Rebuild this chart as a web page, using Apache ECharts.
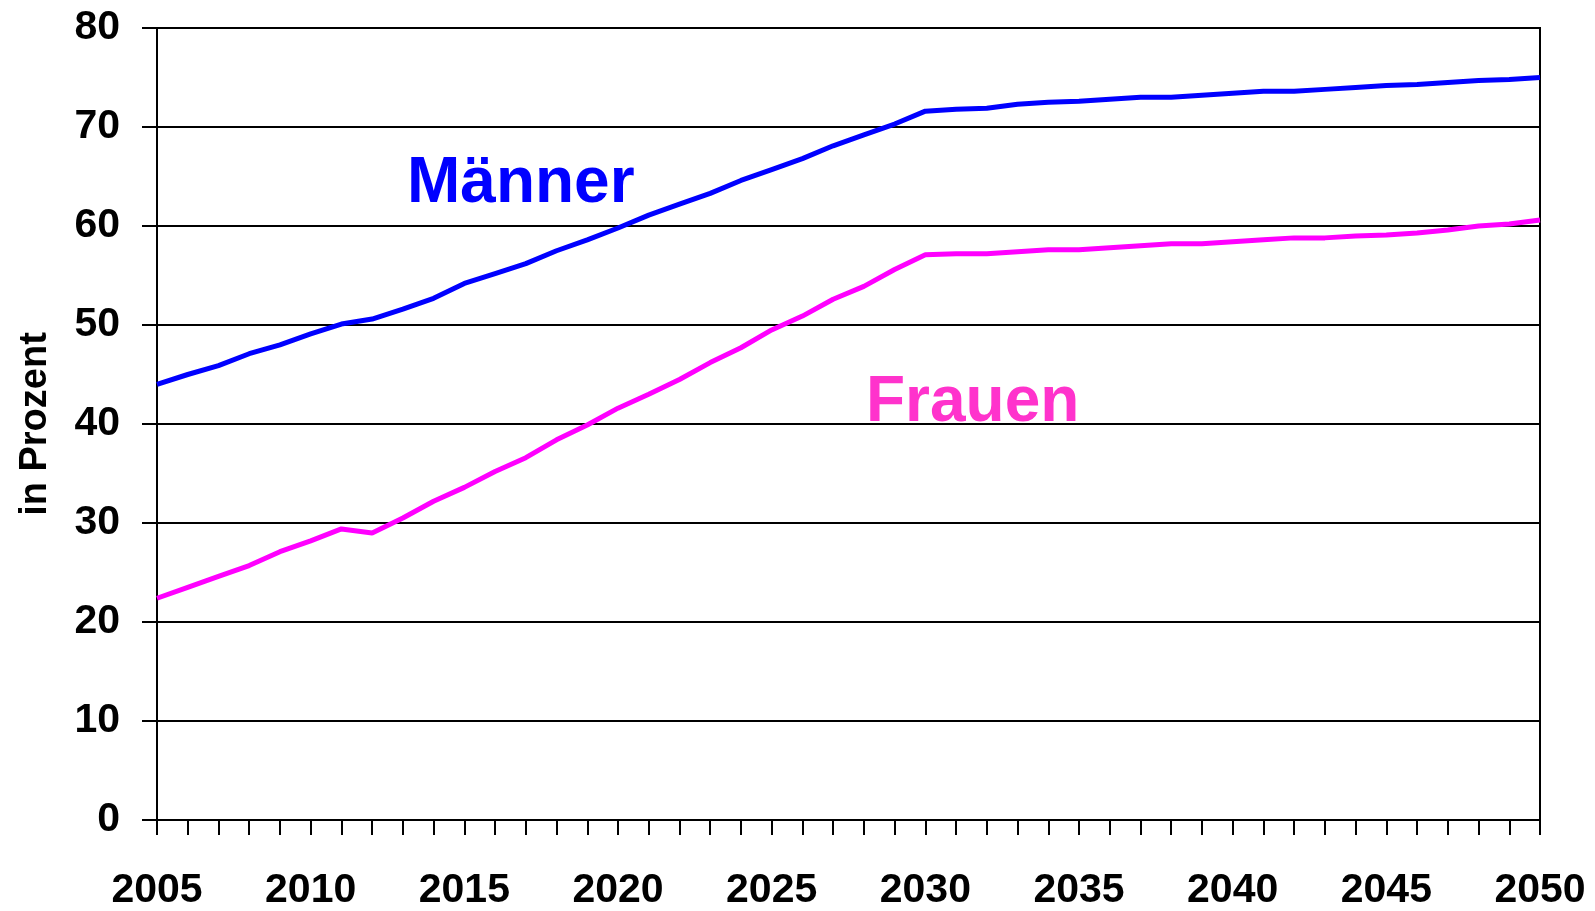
<!DOCTYPE html>
<html>
<head>
<meta charset="utf-8">
<script src="https://cdn.jsdelivr.net/npm/echarts@6/dist/echarts.min.js"></script>
<style>
  html, body { margin: 0; padding: 0; background: #fff; }
  #chart { width: 1595px; height: 911px; }
</style>
</head>
<body>
<div id="chart"></div>
<script>
// Jahre 2005 - 2050
var years = [];
for (var y = 2005; y <= 2050; y++) years.push(String(y));

var maenner = [
  44.0, 45.0, 45.9, 47.1, 48.0, 49.1, 50.1, 50.6, 51.6, 52.7,
  54.2, 55.2, 56.2, 57.5, 58.6, 59.8, 61.1, 62.2, 63.3, 64.6,
  65.7, 66.8, 68.1, 69.2, 70.3, 71.6, 71.8, 71.9, 72.3, 72.5,
  72.6, 72.8, 73.0, 73.0, 73.2, 73.4, 73.6, 73.6, 73.8, 74.0,
  74.2, 74.3, 74.5, 74.7, 74.8, 75.0
];
var frauen = [
  22.4, 23.5, 24.6, 25.7, 27.1, 28.2, 29.4, 29.0, 30.5, 32.2,
  33.6, 35.2, 36.6, 38.4, 39.9, 41.6, 43.0, 44.5, 46.2, 47.7,
  49.5, 50.9, 52.6, 53.9, 55.6, 57.1, 57.2, 57.2, 57.4, 57.6,
  57.6, 57.8, 58.0, 58.2, 58.2, 58.4, 58.6, 58.8, 58.8, 59.0,
  59.1, 59.3, 59.6, 60.0, 60.2, 60.6
];

var fontFam = '"Liberation Sans", Arial, Helvetica, sans-serif';

var chart = echarts.init(document.getElementById('chart'));
chart.setOption({
  animation: false,
  grid: {
    left: 157, right: 55, top: 28, bottom: 88,
    show: true, borderColor: '#000', borderWidth: 2
  },
  xAxis: {
    type: 'category',
    data: years,
    boundaryGap: false,
    axisLine: { lineStyle: { color: '#000', width: 2 } },
    axisTick: { show: true, interval: 0, length: 15, lineStyle: { color: '#000', width: 2 } },
    axisLabel: {
      interval: 4, margin: 50, color: '#000',
      fontSize: 41, fontWeight: 'bold', fontFamily: fontFam
    },
    splitLine: { show: false }
  },
  yAxis: {
    type: 'value',
    min: 0, max: 80, interval: 10,
    name: 'in Prozent',
    nameLocation: 'middle',
    nameGap: 102,
    nameRotate: 90,
    nameTextStyle: { color: '#000', fontSize: 38, fontWeight: 'bold', fontFamily: fontFam },
    axisLine: { show: true, lineStyle: { color: '#000', width: 2 } },
    axisTick: { show: true, length: 15, lineStyle: { color: '#000', width: 2 } },
    axisLabel: {
      margin: 37, color: '#000',
      fontSize: 41, fontWeight: 'bold', fontFamily: fontFam
    },
    splitLine: { show: true, lineStyle: { color: '#000', width: 2 } }
  },
  series: [
    {
      name: 'Männer', type: 'line', data: maenner,
      showSymbol: false, symbol: 'none',
      lineStyle: { color: '#0000FF', width: 5 }
    },
    {
      name: 'Frauen', type: 'line', data: frauen,
      showSymbol: false, symbol: 'none',
      lineStyle: { color: '#FF00FF', width: 5 }
    }
  ],
  graphic: [
    {
      type: 'text', x: 407, y: 184,
      style: {
        text: 'Männer', fill: '#0000FF',
        font: 'bold 64px ' + fontFam,
        align: 'left', verticalAlign: 'middle'
      }
    },
    {
      type: 'text', x: 866, y: 403,
      style: {
        text: 'Frauen', fill: '#FF33CC',
        font: 'bold 64px ' + fontFam,
        align: 'left', verticalAlign: 'middle'
      }
    }
  ]
});
</script>
</body>
</html>
